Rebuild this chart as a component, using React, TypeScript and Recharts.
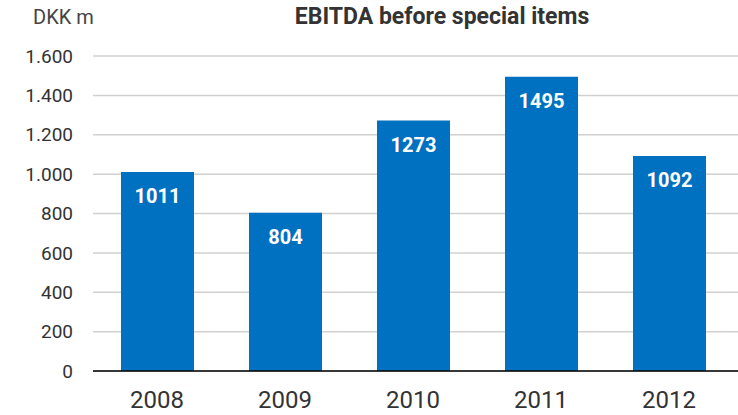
import React from "react";
import { BarChart, Bar, XAxis, YAxis, CartesianGrid, LabelList } from "recharts";

const years = ["2008", "2009", "2010", "2011", "2012"];
const ebitda = [1011, 804, 1273, 1495, 1092];
const yTicks = [0, 200, 400, 600, 800, 1000, 1200, 1400, 1600];

const data = years.map((year, i) => ({ year, value: ebitda[i] }));

const fmt = (v: number) => v.toLocaleString("de-DE");

const FONT = "Roboto, 'DejaVu Sans', sans-serif";

export default function App() {
  return (
    <div style={{ position: "absolute", left: 0, top: 0, width: 738, height: 415, background: "#fff", fontFamily: FONT }}>
      <div style={{ position: "absolute", left: 33, top: 5, fontSize: 20, color: "#444" }}>DKK m</div>
      <div style={{ position: "absolute", left: 0, width: 884, top: 3, textAlign: "center", fontSize: 23, fontWeight: 700, color: "#333" }}>
        EBITDA before special items
      </div>
      <BarChart width={738} height={415} data={data} margin={{ top: 56, right: 0, bottom: 0, left: 0 }} barSize={73}>
        <CartesianGrid horizontal vertical={false} stroke="#d0d0d0" strokeWidth={1.5} />
        <XAxis
          dataKey="year"
          height={44}
          axisLine={{ stroke: "#000", strokeWidth: 1.5 }}
          tickLine={false}
          tickSize={0}
          tickMargin={20}
          padding={{ left: 0, right: 5 }}
          tick={{ fill: "#333", fontSize: 24, fontFamily: FONT }}
        />
        <YAxis
          width={93}
          domain={[0, 1600]}
          ticks={yTicks}
          interval={0}
          axisLine={false}
          tickLine={false}
          tickSize={0}
          tickMargin={20}
          tickFormatter={fmt}
          tick={{ fill: "#333", fontSize: 19, fontFamily: FONT }}
        />
        <Bar dataKey="value" fill="#0070c0" isAnimationActive={false}>
          <LabelList dataKey="value" position="insideTop" offset={17} fill="#fff" fontSize={20} fontWeight={700} fontFamily={FONT} />
        </Bar>
      </BarChart>
    </div>
  );
}
